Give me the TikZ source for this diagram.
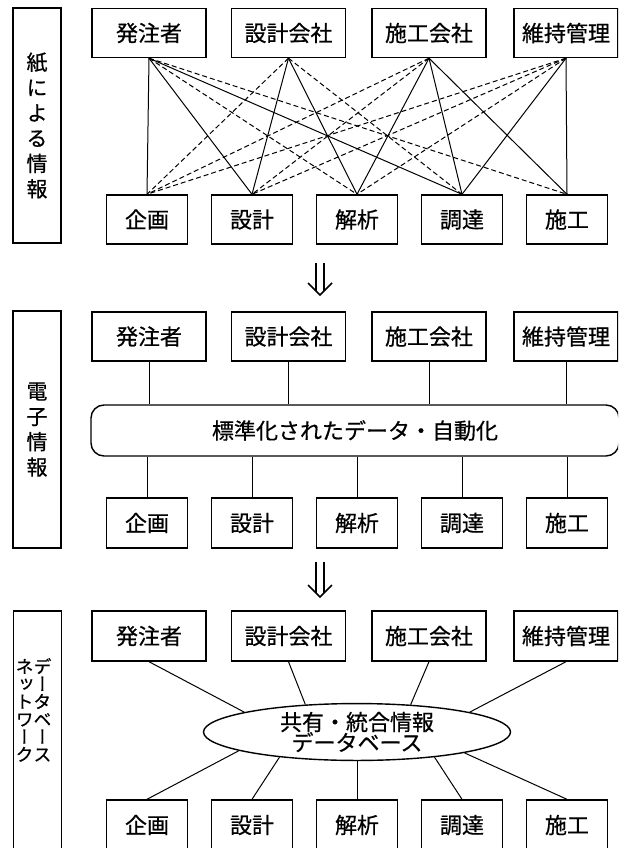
\documentclass[tikz,border=0pt]{standalone}
\usepackage{fontspec}
\setmainfont{Noto Sans CJK JP}[FakeBold=0.6,AutoFakeBold=0.6]
\newfontfamily\vfont[RawFeature=+vert,FakeBold=0.6]{Noto Sans CJK JP}
\usetikzlibrary{shapes.geometric}
\newcommand\tightlines{\lineskiplimit=-50pt\relax}
\tikzset{
  box/.style={draw, line width=1.4pt, inner sep=0pt, minimum height=49pt, font=\fontsize{22}{24}\selectfont},
  topbox/.style={box, minimum width=114pt},
  botbox/.style={box, minimum width=81pt},
  labbox/.style={draw, line width=1.4pt, inner sep=0pt, minimum width=48pt},
  vtext/.style={align=center, inner sep=0pt, font=\vfont\fontsize{21}{25.3}\selectfont\tightlines},
  vsmall/.style={align=center, inner sep=0pt, font=\vfont\fontsize{18}{17.6}\selectfont\tightlines},
  conn/.style={line width=1pt},
  dconn/.style={line width=1pt, dash pattern=on 5pt off 3pt},
  dblarrow/.style={line width=1.5pt},
}
\begin{document}
\begin{tikzpicture}[x=1pt,y=-1pt]
\clip (0,0) rectangle (618,848);
\fill[white] (0,0) rectangle (618,848);

% ---------- Section 1 ----------
\node[labbox, minimum height=235pt, vtext] (lab1) at (37,125.5) {紙\\に\\よ\\る\\情\\報};
\node[topbox] (s1a) at (149,33) {発注者};
\node[topbox] (s1b) at (288.5,33) {設計会社};
\node[topbox] (s1c) at (429,33) {施工会社};
\node[topbox, minimum width=104pt] (s1d) at (566,33) {維持管理};
\node[botbox] (s1p) at (147,219.5) {企画};
\node[botbox] (s1q) at (252,219.5) {設計};
\node[botbox] (s1r) at (357,219.5) {解析};
\node[botbox] (s1s) at (462,219.5) {調達};
\node[botbox] (s1t) at (567,219.5) {施工};

\draw[conn] (s1a.south) -- (s1p.north);
\draw[conn] (s1a.south) -- (s1q.north);
\draw[conn] (s1a.south) -- (s1s.north);
\draw[conn] (s1b.south) -- (s1q.north);
\draw[conn] (s1b.south) -- (s1r.north);
\draw[conn] (s1c.south) -- (s1r.north);
\draw[conn] (s1c.south) -- (s1s.north);
\draw[conn] (s1c.south) -- (s1t.north);
\draw[conn] (s1d.south) -- (s1s.north);
\draw[conn] (s1d.south) -- (s1t.north);

\draw[dconn] (s1a.south) -- (s1r.north);
\draw[dconn] (s1a.south) -- (s1t.north);
\draw[dconn] (s1b.south) -- (s1p.north);
\draw[dconn] (s1b.south) -- (s1s.north);
\draw[dconn] (s1c.south) -- (s1p.north);
\draw[dconn] (s1c.south) -- (s1q.north);
\draw[dconn] (s1d.south) -- (s1p.north);
\draw[dconn] (s1d.south) -- (s1q.north);
\draw[dconn] (s1d.south) -- (s1r.north);

% arrow 1
\draw[dblarrow] (316,263) -- (316,291) (324,263) -- (324,291);
\draw[dblarrow] (308,283) -- (320,295) -- (332,283);

% ---------- Section 2 ----------
\node[labbox, minimum height=237pt, vtext] (lab2) at (37,429.5) {電\\子\\情\\報};
\node[topbox] (s2a) at (149,336.5) {発注者};
\node[topbox] (s2b) at (288.5,336.5) {設計会社};
\node[topbox] (s2c) at (429,336.5) {施工会社};
\node[topbox, minimum width=104pt] (s2d) at (566,336.5) {維持管理};
\node[box, rounded corners=13pt, minimum width=528pt, minimum height=51pt] (bar) at (355,430.5) {標準化されたデータ・自動化};
\node[botbox, minimum height=50pt] (s2p) at (147,523) {企画};
\node[botbox, minimum height=50pt] (s2q) at (252,523) {設計};
\node[botbox, minimum height=50pt] (s2r) at (357,523) {解析};
\node[botbox, minimum height=50pt] (s2s) at (462,523) {調達};
\node[botbox, minimum height=50pt] (s2t) at (567,523) {施工};

\foreach \n in {s2a,s2b,s2c,s2d}
  \draw[conn] (\n.south) -- (\n.south |- bar.north);
\foreach \n in {s2p,s2q,s2r,s2s,s2t}
  \draw[conn] (\n.north |- bar.south) -- (\n.north);

% arrow 2
\draw[dblarrow] (316,562) -- (316,593) (324,562) -- (324,593);
\draw[dblarrow] (308,585) -- (320,597) -- (332,585);

% ---------- Section 3 ----------
\node[labbox, minimum height=239pt] (lab3) at (37.5,730.5) {};
\node[vsmall, anchor=north] (lab3r) at (42.5,657) {\rule{0pt}{16pt}デ\\ー\\タ\\ベ\\ー\\ス};
\node[vsmall, anchor=north] (lab3l) at (24.5,657) {\rule{0pt}{16pt}ネ\\ッ\\ト\\ワ\\ー\\ク};
\node[topbox, minimum height=50pt] (s3a) at (149,636) {発注者};
\node[topbox, minimum height=50pt] (s3b) at (288.5,636) {設計会社};
\node[topbox, minimum height=50pt] (s3c) at (429,636) {施工会社};
\node[topbox, minimum height=50pt, minimum width=104pt] (s3d) at (566,636) {維持管理};
\node[draw, ellipse, line width=1.4pt, inner sep=0pt, minimum width=307pt, minimum height=52pt,
      align=center, font=\fontsize{22}{20.5}\selectfont\tightlines] (db) at (357,732) {共有・統合情報\\データベース};
\node[botbox, minimum height=50pt] (s3p) at (147,825) {企画};
\node[botbox, minimum height=50pt] (s3q) at (252,825) {設計};
\node[botbox, minimum height=50pt] (s3r) at (357,825) {解析};
\node[botbox, minimum height=50pt] (s3s) at (462,825) {調達};
\node[botbox, minimum height=50pt] (s3t) at (567,825) {施工};

\draw[conn] (s3a.south) -- (db.170.7);
\draw[conn] (s3b.south) -- (db.152.5);
\draw[conn] (s3c.south) -- (db.27);
\draw[conn] (s3d.south) -- (db.10.8);
\draw[conn] (s3p.north) -- (db.189.4);
\draw[conn] (s3q.north) -- (db.198.6);
\draw[conn] (s3r.north) -- (db.270);
\draw[conn] (s3s.north) -- (db.342);
\draw[conn] (s3t.north) -- (db.349.2);
\end{tikzpicture}
\end{document}
